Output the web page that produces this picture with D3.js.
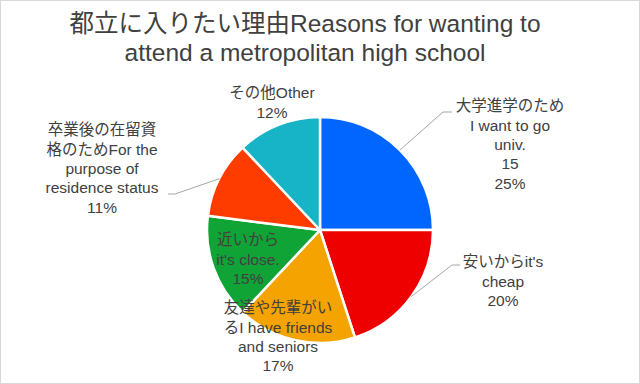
<!DOCTYPE html>
<html>
<head>
<meta charset="utf-8">
<script src="https://cdn.jsdelivr.net/npm/d3@7"></script>
<style>
  html, body { margin: 0; padding: 0; background: #fff; }
  text { font-family: "Liberation Sans", Arial, "Noto Sans CJK JP", sans-serif; fill: #404040; }
</style>
</head>
<body>
<svg id="chart" width="640" height="384"></svg>
<script>
// chart data
var titleLines = ["都立に入りたい理由Reasons for wanting to", "attend a metropolitan high school"];
var categories = [
    ["大学進学のため", "I want to go", "univ."],
    ["安いからit's", "cheap"],
    ["友達や先輩がい", "るI have friends", "and seniors"],
    ["近いから", "it's close."],
    ["卒業後の在留資", "格のためFor the", "purpose of", "residence status"],
    ["その他Other"]
];
var percents = [25, 20, 17, 15, 11, 12];
var counts   = [15, null, null, null, null, null];
var colors   = ["#0066FF", "#EE0000", "#F5A300", "#10A336", "#FF3C00", "#17B3C6"];

// label placement (centre x, first line y) and leader elbows
var labelAt = [[510, 106], [503, 262], [278, 308], [248, 240], [102, 130], [272, 93]];
var elbows  = [[[452, 112], [443, 112]], [[460, 265], [452, 265]], null, null, [[168, 194], [175, 194]], null];

var svg = d3.select('#chart');
var cx = 320, cy = 230, r = 113;

//outer frame
svg.append('rect')
    .attr('x', 0.5).attr('y', 0.5)
    .attr('width', 639).attr('height', 383)
    .attr('fill', '#fff')
    .attr('stroke', '#d9d9d9');

//title
svg.append('g').selectAll('text')
    .data(titleLines)
    .join('text')
    .attr('x', 305)
    .attr('y', function(d, i){ return 32 + i * 29; })
    .attr('text-anchor', 'middle')
    .style('font-size', '24.5px')
    .text(function(d){ return d; });

var pie = d3.pie().sort(null).value(function(d){ return d; });
var arcs = pie(percents);
var arc = d3.arc().innerRadius(0).outerRadius(r);
var edge = d3.arc().innerRadius(r).outerRadius(r);

var g = svg.append('g').attr('transform', 'translate(' + cx + ',' + cy + ')');

g.selectAll('path.slice')
    .data(arcs)
    .join('path')
    .attr('class', 'slice')
    .attr('d', arc)
    .attr('fill', function(d, i){ return colors[i]; })
    .attr('stroke', '#fff')
    .attr('stroke-width', 2.5)
    .attr('stroke-linejoin', 'round');

//leader lines
arcs.forEach(function(d, i){
    if (!elbows[i]) return;
    var p = edge.centroid(d);
    var pts = [[cx + p[0], cy + p[1]]].concat(elbows[i].slice().reverse()).reverse();
    svg.append('polyline')
        .attr('points', pts.map(function(q){ return q.join(','); }).join(' '))
        .attr('fill', 'none')
        .attr('stroke', '#a6a6a6')
        .attr('stroke-width', 1);
});

//data labels
arcs.forEach(function(d, i){
    var lines = categories[i].slice();
    if (counts[i] != null) lines.push(String(counts[i]));
    lines.push(percents[i] + '%');
    svg.append('g').selectAll('text')
        .data(lines)
        .join('text')
        .attr('x', labelAt[i][0])
        .attr('y', function(t, k){ return labelAt[i][1] + k * 19.3; })
        .attr('dy', '0.35em')
        .attr('text-anchor', 'middle')
        .style('font-size', '15.5px')
        .text(function(t){ return t; });
});
</script>
</body>
</html>
